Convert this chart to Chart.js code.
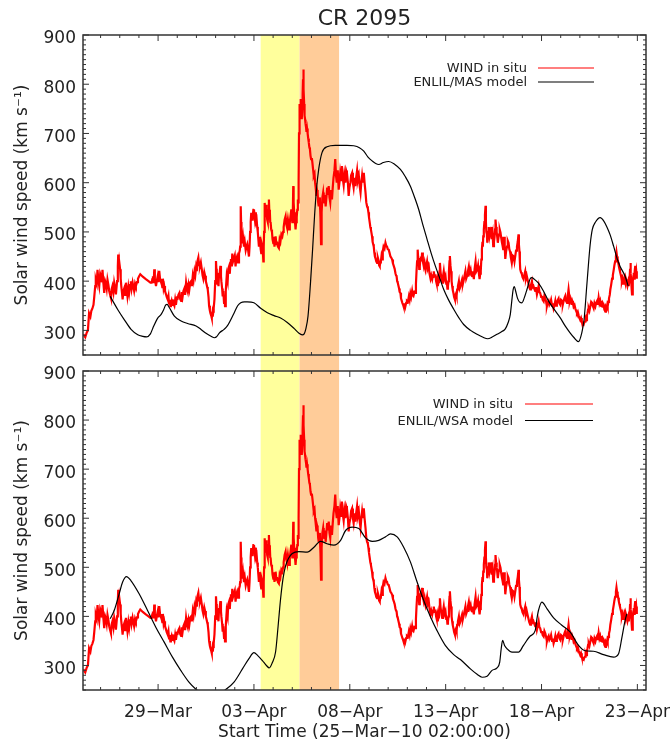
<!DOCTYPE html>
<html>
<head>
<meta charset="utf-8">
<title>CR 2095</title>
<script src="https://cdn.jsdelivr.net/npm/chart.js@4.4.0/dist/chart.umd.min.js"></script>
<style>
  html, body { margin: 0; padding: 0; background: #fff; }
  #wrap { position: relative; width: 670px; height: 743px; }
  #wrap canvas { position: absolute; left: 0; }
  #topChart { top: 0; }
  #bottomChart { top: 362px; }
</style>
</head>
<body>
<div id="wrap">
  <canvas id="topChart" width="670" height="371" style="width:670px;height:371px"></canvas>
  <canvas id="bottomChart" width="670" height="381" style="width:670px;height:381px"></canvas>
</div>
<script>
// x values are days since 25-Mar-2010 00:00 (plot starts 02:00)
const xMin = 0.083;
const xMax = 29.45;
const tickDays = [4, 9, 14, 19, 24, 29];
const tickLabels = ['29−Mar', '03−Apr', '08−Apr', '13−Apr', '18−Apr', '23−Apr'];
const yTicks = [300, 400, 500, 600, 700, 800, 900];
const yMin = 250;
const yMax = 900;

// shaded intervals (days)
const bandStart = [9.35, 11.38];
const bandEnd = [11.38, 13.44];

// WIND in situ speed, km/s  [day, value]
const windInSitu = [
  [0.10,292],[0.20,286],[0.28,296],[0.34,300],[0.40,335],[0.47,328],[0.52,340],[0.57,344],[0.63,352],[0.67,368],
  [0.72,390],[0.75,403],[0.80,395],[0.84,423],[0.89,400],[0.93,390],[0.98,415],[1.02,410],[1.06,398],[1.10,423],
  [1.15,395],[1.19,376],[1.24,400],[1.28,395],[1.32,385],[1.36,403],[1.41,392],[1.45,380],[1.50,372],[1.54,366],
  [1.58,384],[1.62,390],[1.67,378],[1.71,397],[1.76,386],[1.80,373],[1.86,400],[1.90,430],[1.92,454],[1.95,432],
  [1.97,440],[2.02,424],[2.05,405],[2.08,390],[2.12,375],[2.15,363],[2.19,380],[2.23,385],[2.28,372],[2.32,397],
  [2.36,384],[2.40,370],[2.45,388],[2.49,376],[2.54,392],[2.58,400],[2.62,385],[2.67,397],[2.71,388],[2.75,380],
  [2.80,395],[2.84,390],[2.90,398],[2.95,405],[3.01,410],[3.07,414],[3.20,409],[3.36,404],[3.50,400],[3.60,397],
  [3.66,397],[3.70,404],[3.73,410],[3.77,396],[3.80,424],[3.83,405],[3.85,400],[3.89,390],[3.94,402],[3.98,410],
  [4.02,398],[4.06,421],[4.10,405],[4.14,400],[4.18,397],[4.22,388],[4.25,405],[4.29,385],[4.32,390],[4.36,380],
  [4.40,375],[4.45,368],[4.50,363],[4.54,370],[4.57,355],[4.61,362],[4.64,349],[4.67,356],[4.70,360],[4.73,352],
  [4.76,363],[4.80,355],[4.85,350],[4.89,362],[4.93,352],[4.98,366],[5.02,365],[5.06,372],[5.11,376],[5.15,364],
  [5.20,360],[5.24,378],[5.28,369],[5.32,380],[5.37,385],[5.41,372],[5.46,397],[5.50,385],[5.55,378],[5.59,392],
  [5.63,383],[5.68,398],[5.72,400],[5.76,390],[5.81,411],[5.85,402],[5.90,420],[5.94,412],[5.98,428],[6.02,420],
  [6.05,440],[6.10,448],[6.14,432],[6.18,430],[6.23,438],[6.28,424],[6.32,412],[6.36,405],[6.41,418],[6.45,411],
  [6.49,400],[6.52,395],[6.56,388],[6.59,383],[6.63,368],[6.66,350],[6.70,340],[6.73,335],[6.77,330],[6.80,325],
  [6.83,334],[6.85,328],[6.88,338],[6.90,345],[6.94,363],[6.98,400],[7.02,441],[7.04,425],[7.06,420],[7.09,395],
  [7.11,404],[7.15,390],[7.18,415],[7.22,420],[7.25,431],[7.28,410],[7.30,400],[7.34,385],[7.37,369],[7.40,380],
  [7.44,356],[7.47,370],[7.49,349],[7.53,380],[7.58,411],[7.63,400],[7.66,425],[7.70,430],[7.74,415],[7.77,436],
  [7.80,445],[7.84,430],[7.87,456],[7.91,440],[7.95,440],[8.00,452],[8.04,430],[8.08,445],[8.12,450],[8.17,438],
  [8.22,456],[8.26,462],[8.28,470],[8.31,552],[8.33,520],[8.35,500],[8.39,477],[8.43,490],[8.48,470],[8.52,480],
  [8.57,463],[8.61,470],[8.65,475],[8.70,462],[8.74,450],[8.77,470],[8.80,500],[8.83,520],[8.86,539],[8.90,525],
  [8.93,530],[8.97,545],[9.00,546],[9.04,530],[9.07,540],[9.10,520],[9.14,525],[9.17,510],[9.20,500],[9.23,485],
  [9.26,470],[9.29,490],[9.32,480],[9.35,465],[9.38,457],[9.41,475],[9.44,470],[9.47,455],[9.49,440],[9.51,470],
  [9.53,500],[9.56,559],[9.58,540],[9.61,530],[9.64,555],[9.66,546],[9.69,525],[9.72,520],[9.75,545],[9.78,566],
  [9.80,545],[9.83,540],[9.85,520],[9.87,519],[9.90,505],[9.94,500],[9.97,485],[10.01,477],[10.04,490],[10.07,470],
  [10.10,485],[10.13,491],[10.17,475],[10.20,480],[10.25,470],[10.30,467],[10.34,485],[10.38,480],[10.43,495],[10.48,491],
  [10.52,500],[10.55,510],[10.60,525],[10.65,532],[10.69,515],[10.72,510],[10.77,525],[10.83,505],[10.87,520],[10.90,530],
  [10.95,546],[10.98,530],[11.00,520],[11.03,545],[11.05,593],[11.07,560],[11.10,540],[11.14,520],[11.17,505],[11.20,520],
  [11.23,530],[11.26,545],[11.29,566],[11.31,560],[11.33,600],[11.35,700],[11.36,736],[11.38,755],[11.40,760],[11.42,745],
  [11.43,770],[11.45,750],[11.47,740],[11.49,760],[11.50,729],[11.52,755],[11.54,780],[11.56,810],[11.57,830],[11.59,800],
  [11.60,790],[11.62,760],[11.64,736],[11.67,728],[11.69,720],[11.72,712],[11.74,703],[11.77,710],[11.80,700],[11.83,690],
  [11.86,682],[11.89,672],[11.92,668],[11.95,655],[11.98,648],[12.02,650],[12.05,640],[12.09,625],[12.12,614],[12.16,618],
  [12.19,600],[12.22,590],[12.26,573],[12.29,585],[12.32,580],[12.35,560],[12.38,552],[12.41,570],[12.44,560],[12.47,530],
  [12.50,475],[12.52,510],[12.54,540],[12.57,570],[12.61,580],[12.64,565],[12.67,560],[12.70,575],[12.74,552],[12.78,570],
  [12.82,590],[12.86,575],[12.90,593],[12.94,570],[12.98,560],[13.02,585],[13.07,566],[13.11,590],[13.15,610],[13.20,625],
  [13.24,648],[13.28,615],[13.32,600],[13.37,625],[13.42,586],[13.46,600],[13.50,620],[13.55,605],[13.59,634],[13.63,610],
  [13.68,595],[13.72,615],[13.77,600],[13.81,625],[13.85,620],[13.90,600],[13.94,573],[13.98,590],[14.03,600],[14.07,615],
  [14.12,620],[14.16,600],[14.20,590],[14.25,610],[14.29,593],[14.33,610],[14.38,625],[14.42,605],[14.47,614],[14.51,595],
  [14.56,580],[14.60,600],[14.64,614],[14.68,600],[14.73,620],[14.77,600],[14.82,580],[14.86,560],[14.90,552],[14.94,548],
  [14.97,540],[15.00,530],[15.04,519],[15.07,510],[15.10,505],[15.13,498],[15.16,491],[15.19,480],[15.22,475],[15.25,470],
  [15.28,458],[15.31,450],[15.35,445],[15.38,440],[15.42,437],[15.46,448],[15.50,442],[15.53,432],[15.56,430],[15.59,438],
  [15.62,440],[15.65,450],[15.68,444],[15.72,460],[15.76,470],[15.81,466],[15.86,478],[15.90,472],[15.94,470],[15.98,465],
  [16.03,464],[16.07,458],[16.12,450],[16.16,448],[16.21,444],[16.25,436],[16.30,430],[16.34,425],[16.38,416],[16.41,412],
  [16.44,410],[16.47,400],[16.50,397],[16.54,390],[16.57,385],[16.60,378],[16.64,376],[16.67,365],[16.71,360],[16.74,356],
  [16.78,352],[16.81,348],[16.84,345],[16.87,355],[16.90,349],[16.94,356],[16.98,360],[17.03,358],[17.08,369],[17.12,362],
  [17.16,375],[17.20,368],[17.25,380],[17.28,372],[17.32,370],[17.37,378],[17.42,376],[17.45,395],[17.48,420],[17.51,440],
  [17.54,464],[17.57,445],[17.60,440],[17.62,425],[17.65,430],[17.68,445],[17.71,450],[17.74,440],[17.77,458],[17.81,440],
  [17.86,430],[17.90,438],[17.95,424],[17.99,432],[18.03,440],[18.07,425],[18.12,430],[18.16,415],[18.21,405],[18.25,412],
  [18.30,404],[18.34,412],[18.38,420],[18.42,410],[18.47,411],[18.50,400],[18.53,395],[18.56,402],[18.59,390],[18.62,398],
  [18.65,410],[18.68,420],[18.70,437],[18.73,420],[18.76,410],[18.79,402],[18.82,397],[18.86,410],[18.90,420],[18.94,405],
  [18.99,411],[19.03,395],[19.06,400],[19.09,385],[19.12,390],[19.15,400],[19.17,420],[19.20,440],[19.22,451],[19.25,432],
  [19.28,420],[19.31,400],[19.34,390],[19.37,382],[19.41,375],[19.44,368],[19.48,363],[19.51,372],[19.54,375],[19.57,370],
  [19.60,383],[19.64,390],[19.69,400],[19.73,385],[19.78,390],[19.82,398],[19.86,404],[19.90,395],[19.95,404],[19.99,412],
  [20.03,420],[20.07,405],[20.12,411],[20.16,420],[20.21,430],[20.25,418],[20.30,424],[20.34,412],[20.38,410],[20.42,420],
  [20.47,404],[20.51,425],[20.56,440],[20.60,420],[20.65,424],[20.69,432],[20.72,420],[20.75,410],[20.77,404],[20.80,415],
  [20.82,430],[20.84,420],[20.86,444],[20.89,465],[20.92,480],[20.94,470],[20.96,491],[20.99,505],[21.02,520],[21.05,535],
  [21.08,553],[21.10,520],[21.12,500],[21.15,495],[21.17,478],[21.21,500],[21.25,510],[21.29,490],[21.34,499],[21.38,510],
  [21.41,485],[21.45,495],[21.48,471],[21.52,480],[21.55,490],[21.58,505],[21.60,525],[21.63,510],[21.66,500],[21.69,490],
  [21.72,478],[21.76,490],[21.79,495],[21.82,505],[21.86,499],[21.89,490],[21.93,480],[21.97,472],[22.00,465],[22.03,480],
  [22.05,490],[22.08,470],[22.11,445],[22.15,460],[22.20,470],[22.24,482],[22.28,478],[22.32,465],[22.36,460],[22.40,448],
  [22.45,437],[22.50,452],[22.55,450],[22.59,440],[22.63,451],[22.67,462],[22.72,470],[22.76,480],[22.80,495],[22.82,475],
  [22.85,460],[22.87,440],[22.89,424],[22.93,418],[22.97,415],[23.01,408],[23.06,404],[23.10,412],[23.15,420],[23.19,405],
  [23.23,411],[23.28,402],[23.32,395],[23.36,388],[23.41,383],[23.45,392],[23.50,400],[23.54,388],[23.58,390],[23.62,385],
  [23.67,380],[23.71,388],[23.76,373],[23.80,380],[23.85,390],[23.89,378],[23.93,376],[23.98,368],[24.02,370],[24.06,362],
  [24.11,359],[24.15,370],[24.20,365],[24.24,358],[24.28,349],[24.32,356],[24.37,360],[24.41,352],[24.46,356],[24.50,362],
  [24.55,350],[24.59,355],[24.63,345],[24.68,352],[24.72,360],[24.76,350],[24.80,356],[24.85,362],[24.89,365],[24.93,355],
  [24.98,352],[25.02,362],[25.07,360],[25.11,352],[25.15,359],[25.20,366],[25.24,370],[25.28,360],[25.33,356],[25.36,362],
  [25.38,370],[25.41,383],[25.44,372],[25.47,360],[25.50,365],[25.54,359],[25.57,352],[25.60,360],[25.64,355],[25.67,349],
  [25.72,352],[25.76,345],[25.80,340],[25.85,335],[25.89,338],[25.94,330],[25.98,325],[26.02,321],[26.06,325],[26.10,318],
  [26.15,314],[26.20,312],[26.23,316],[26.27,318],[26.30,325],[26.34,321],[26.37,330],[26.40,335],[26.43,342],[26.46,345],
  [26.50,340],[26.55,350],[26.59,358],[26.63,356],[26.67,350],[26.72,345],[26.76,355],[26.81,349],[26.85,356],[26.90,360],
  [26.94,352],[26.98,366],[27.02,355],[27.06,360],[27.10,350],[27.15,349],[27.19,356],[27.24,352],[27.28,342],[27.33,338],
  [27.36,348],[27.40,345],[27.43,352],[27.45,349],[27.49,358],[27.52,365],[27.56,372],[27.59,383],[27.63,392],[27.68,405],
  [27.72,412],[27.77,424],[27.80,432],[27.84,440],[27.88,450],[27.91,459],[27.94,450],[27.97,445],[28.00,438],[28.03,431],
  [28.06,425],[28.09,420],[28.12,415],[28.15,411],[28.19,400],[28.22,405],[28.26,395],[28.29,397],[28.32,405],[28.35,400],
  [28.38,408],[28.41,404],[28.45,395],[28.48,390],[28.52,398],[28.55,390],[28.58,400],[28.60,410],[28.62,425],[28.64,437],
  [28.66,415],[28.68,400],[28.70,385],[28.72,373],[28.75,390],[28.77,400],[28.79,410],[28.81,417],[28.83,405],[28.85,410],
  [28.87,420],[28.89,431],[28.92,415],[28.94,420],[28.96,405],[28.98,411]
];

// ENLIL/MAS model speed, km/s  [day, value]
const enlilMas = [
  [1.50,369],[1.90,342],[2.25,321],[2.59,302],[2.94,291],[3.20,288],[3.40,287],[3.60,293],[3.72,304],[3.98,325],
  [4.15,332],[4.29,342],[4.40,352],[4.47,353],[4.59,346],[4.85,329],[5.20,319],[5.54,314],[5.98,309],[6.24,302],
  [6.50,294],[6.76,288],[6.94,285],[7.05,287],[7.20,295],[7.44,302],[7.61,309],[7.96,335],[8.15,350],[8.31,356],
  [8.50,358],[8.65,358],[9.00,356],[9.35,345],[9.70,336],[10.05,330],[10.39,325],[10.74,316],[11.09,304],[11.35,294],
  [11.52,291],[11.62,293],[11.70,302],[11.82,329],[11.95,397],[12.06,465],[12.16,532],[12.26,586],[12.38,628],[12.55,661],
  [12.81,673],[13.24,676],[13.85,676],[14.21,675],[14.50,671],[14.73,664],[14.95,652],[15.17,644],[15.35,639],[15.51,637],
  [15.75,641],[16.03,643],[16.35,637],[16.64,627],[16.90,612],[17.16,593],[17.40,568],[17.59,546],[17.80,516],[18.03,485],
  [18.25,456],[18.46,431],[18.70,405],[18.90,383],[19.15,362],[19.42,343],[19.70,325],[19.94,312],[20.30,300],[20.64,292],
  [20.95,286],[21.19,283],[21.45,287],[21.68,292],[21.95,298],[22.11,303],[22.25,315],[22.37,332],[22.45,360],[22.52,383],
  [22.58,389],[22.65,380],[22.75,365],[22.87,357],[22.98,356],[23.10,366],[23.24,383],[23.41,405],[23.50,407],[23.62,404],
  [23.84,396],[24.10,380],[24.36,360],[24.65,343],[24.97,326],[25.25,308],[25.49,295],[25.70,285],[25.93,277],[26.10,295],
  [26.22,322],[26.36,390],[26.46,440],[26.54,475],[26.65,505],[26.80,519],[27.06,529],[27.25,522],[27.41,510],[27.58,494],
  [27.76,471],[27.95,445],[28.10,430],[28.36,410],[28.52,390]
];

// ENLIL/WSA model speed, km/s  [day, value]
const enlilWsa = [
  [1.50,395],[1.71,412],[1.97,446],[2.15,470],[2.35,481],[2.58,473],[3.01,446],[3.45,412],[3.88,378],[4.31,348],
  [4.75,317],[5.18,290],[5.61,266],[5.96,252],[6.40,240],[6.75,236],[7.10,240],[7.53,251],[7.96,266],[8.40,293],
  [8.74,314],[9.00,326],[9.20,320],[9.44,310],[9.65,300],[9.80,295],[9.95,305],[10.13,328],[10.26,380],[10.39,436],
  [10.52,478],[10.65,503],[10.80,518],[11.00,528],[11.34,532],[11.78,531],[12.13,541],[12.47,553],[12.82,548],[13.17,545],
  [13.52,555],[13.78,575],[14.13,582],[14.47,579],[14.82,560],[15.17,553],[15.51,555],[15.86,562],[16.12,568],[16.47,562],
  [16.81,541],[17.16,511],[17.51,470],[17.85,433],[18.20,400],[18.55,371],[18.98,341],[19.42,322],[19.77,312],[20.29,293],
  [20.64,282],[20.90,276],[21.16,278],[21.42,290],[21.68,295],[21.82,307],[21.90,335],[21.97,351],[22.08,340],[22.20,334],
  [22.46,327],[22.80,327],[23.06,341],[23.41,360],[23.67,371],[23.76,395],[23.84,412],[24.02,429],[24.28,416],[24.63,397],
  [25.06,382],[25.50,368],[25.93,341],[26.28,330],[26.71,329],[27.23,322],[27.76,317],[28.02,324],[28.19,356],[28.36,392],
  [28.45,405]
];

const toXY = (pairs) => pairs.map(([x, y]) => ({ x, y }));

Chart.defaults.font.family = '"DejaVu Sans", sans-serif';
Chart.defaults.font.size = 17;
Chart.defaults.color = '#222';

const bandColors = ['#ffff9c', '#ffcc99'];

// shaded time intervals, drawn under the data
const bandsPlugin = {
  id: 'bands',
  beforeDatasetsDraw(chart, args, opts) {
    const { ctx, chartArea, scales: { x } } = chart;
    const top = chartArea.top;
    const bottom = opts.toCanvasBottom ? chart.height : chartArea.bottom;
    ctx.save();
    bandStart.forEach((from, i) => {
      const x0 = x.getPixelForValue(from);
      const x1 = x.getPixelForValue(bandEnd[i]);
      ctx.fillStyle = bandColors[i];
      ctx.fillRect(x0, top, x1 - x0, bottom - top);
    });
    ctx.restore();
  }
};

// box round the plot with IDL style inward ticks
const framePlugin = {
  id: 'frame',
  afterDraw(chart) {
    const { ctx, chartArea: a, scales: { x, y } } = chart;
    ctx.save();
    ctx.strokeStyle = '#333';
    ctx.lineWidth = 1;
    ctx.beginPath();
    for (let d = Math.ceil(x.min); d <= x.max; d++) {
      const px = x.getPixelForValue(d);
      const len = tickDays.includes(d) ? 6 : 3;
      ctx.moveTo(px, a.bottom); ctx.lineTo(px, a.bottom - len);
      ctx.moveTo(px, a.top); ctx.lineTo(px, a.top + len);
    }
    for (let v = Math.ceil(y.min / 10) * 10; v <= y.max; v += 10) {
      const py = y.getPixelForValue(v);
      const len = v % 100 === 0 ? 6 : 3;
      ctx.moveTo(a.left, py); ctx.lineTo(a.left + len, py);
      ctx.moveTo(a.right, py); ctx.lineTo(a.right - len, py);
    }
    ctx.stroke();
    ctx.lineWidth = 1.5;
    ctx.strokeRect(a.left, a.top, a.right - a.left, a.bottom - a.top);
    ctx.restore();
  }
};

// small legend in the upper right, IDL style
const keyPlugin = {
  id: 'key',
  afterDraw(chart, args, opts) {
    const { ctx, chartArea: a } = chart;
    ctx.save();
    ctx.font = '13px "DejaVu Sans"';
    ctx.textAlign = 'right';
    ctx.textBaseline = 'middle';
    chart.data.datasets.forEach((ds, i) => {
      const yy = a.top + opts.firstRow + i * opts.rowGap;
      ctx.fillStyle = '#222';
      ctx.fillText(ds.label, opts.textRight, yy + 1);
      ctx.strokeStyle = ds.borderColor;
      ctx.lineWidth = 1.2;
      ctx.beginPath();
      ctx.moveTo(opts.lineFrom, yy);
      ctx.lineTo(opts.lineTo, yy);
      ctx.stroke();
    });
    ctx.restore();
  }
};

function buildPanel(canvasId, model, modelLabel, isBottom) {
  return new Chart(document.getElementById(canvasId), {
    type: 'line',
    data: {
      datasets: [
        {
          label: 'WIND in situ',
          data: toXY(windInSitu),
          borderColor: '#ff0000',
          borderWidth: 2.2,
          pointRadius: 0,
          tension: 0,
          order: 1
        },
        {
          label: modelLabel,
          data: toXY(model),
          borderColor: '#000000',
          borderWidth: 1.2,
          pointRadius: 0,
          cubicInterpolationMode: 'monotone',
          order: 0
        }
      ]
    },
    options: {
      responsive: false,
      animation: false,
      devicePixelRatio: 1,
      events: [],
      layout: {
        padding: { top: isBottom ? 9 : 0, right: 24, bottom: 0, left: 0 }
      },
      scales: {
        x: {
          type: 'linear',
          min: xMin,
          max: xMax,
          grid: { display: false, drawTicks: false },
          border: { display: false },
          afterBuildTicks: (s) => { s.ticks = tickDays.map(v => ({ value: v })); },
          afterFit: (s) => {
            s.height = isBottom ? 53 : 16;
            s.paddingLeft = 0;
            s.paddingRight = 0;
          },
          ticks: {
            display: isBottom,
            autoSkip: false,
            maxRotation: 0,
            padding: 12,
            callback: (v) => tickLabels[tickDays.indexOf(v)] ?? ''
          },
          title: {
            display: isBottom,
            text: 'Start Time (25−Mar−10 02:00:00)',
            padding: { top: 0, bottom: 0 }
          }
        },
        y: {
          min: yMin,
          max: yMax,
          grid: { display: false, drawTicks: false },
          border: { display: false },
          afterBuildTicks: (s) => { s.ticks = yTicks.map(v => ({ value: v })); },
          afterFit: (s) => {
            s.width = 83;
            s.paddingTop = 0;
            s.paddingBottom = 0;
          },
          ticks: {
            padding: 7,
            labelOffset: 4,
            callback: (v) => String(v)
          },
          title: {
            display: true,
            text: 'Solar wind speed (km s⁻¹)',
            padding: { top: 12, bottom: 0 }
          }
        }
      },
      plugins: {
        legend: { display: false },
        tooltip: { enabled: false },
        title: {
          display: !isBottom,
          text: 'CR 2095',
          fullSize: false,
          font: { size: 22, weight: 'normal' },
          color: '#222',
          padding: { top: 6, bottom: 2.6 }
        },
        bands: { toCanvasBottom: !isBottom },
        key: isBottom
          ? { firstRow: 33, rowGap: 16.5, textRight: 513, lineFrom: 525, lineTo: 593 }
          : { firstRow: 33, rowGap: 14, textRight: 527, lineFrom: 538, lineTo: 594 }
      }
    },
    plugins: [bandsPlugin, framePlugin, keyPlugin]
  });
}

buildPanel('topChart', enlilMas, 'ENLIL/MAS model', false);
buildPanel('bottomChart', enlilWsa, 'ENLIL/WSA model', true);
</script>
</body>
</html>
